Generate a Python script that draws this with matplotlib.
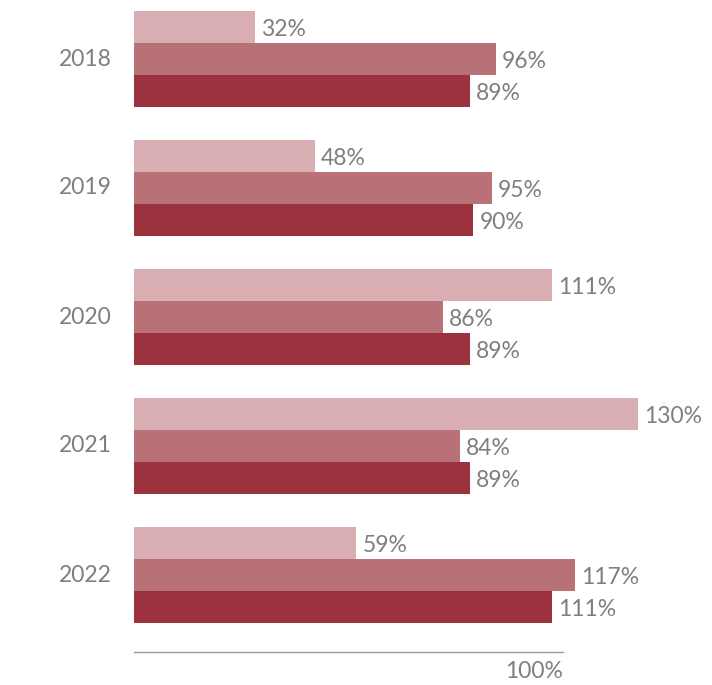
import matplotlib.pyplot as plt
import numpy as np

years = ['2018', '2019', '2020', '2021', '2022']
# longitudes de barra (las etiquetas no siempre coinciden)
serie_a = [32, 48, 111, 133.7, 59]
serie_b = [96, 95, 82, 86.5, 117]
serie_c = [89, 90, 89, 89, 111]
etiquetas_a = ['32%', '48%', '111%', '130%', '59%']
etiquetas_b = ['96%', '95%', '86%', '84%', '117%']
etiquetas_c = ['89%', '90%', '89%', '89%', '111%']

colores = ['#d8aeb3', '#b87177', '#9b323e']
gris = '#7f7f7f'
plt.rcParams['font.family'] = ['Lato', 'DejaVu Sans']

fig = plt.figure(figsize=(7.12, 6.85), dpi=100)
ax = fig.add_axes([134 / 712, 0, 1 - 134 / 712, 1])

y = np.arange(len(years))
h = 0.25
for off, vals, labs, col in zip([-h, 0, h], [serie_a, serie_b, serie_c],
                                [etiquetas_a, etiquetas_b, etiquetas_c], colores):
    ax.barh(y + off, vals, height=h, color=col, edgecolor='none')
    for yi, v, t in zip(y + off, vals, labs):
        ax.text(v + 1.6, yi + 0.02, t, va='center', ha='left', fontsize=16.5, color=gris)

ax.set_xlim(0, 578 / 3.77)
ax.set_ylim((685 - 59) / 129, -59 / 129)
ax.axis('off')

for yi, yr in zip(y, years):
    ax.text(-6, yi, yr, ha='right', va='center', fontsize=16.5, color=gris)

# linea base con la marca de 100%
x_fin = (563 - 134) / 3.77
ax.plot([0, x_fin], [4.597, 4.597], color='#999999', linewidth=1, clip_on=False)
ax.text(x_fin, 4.75, '100%', ha='right', va='center', fontsize=16.5, color=gris)

fig.savefig('out.png', dpi=100)
